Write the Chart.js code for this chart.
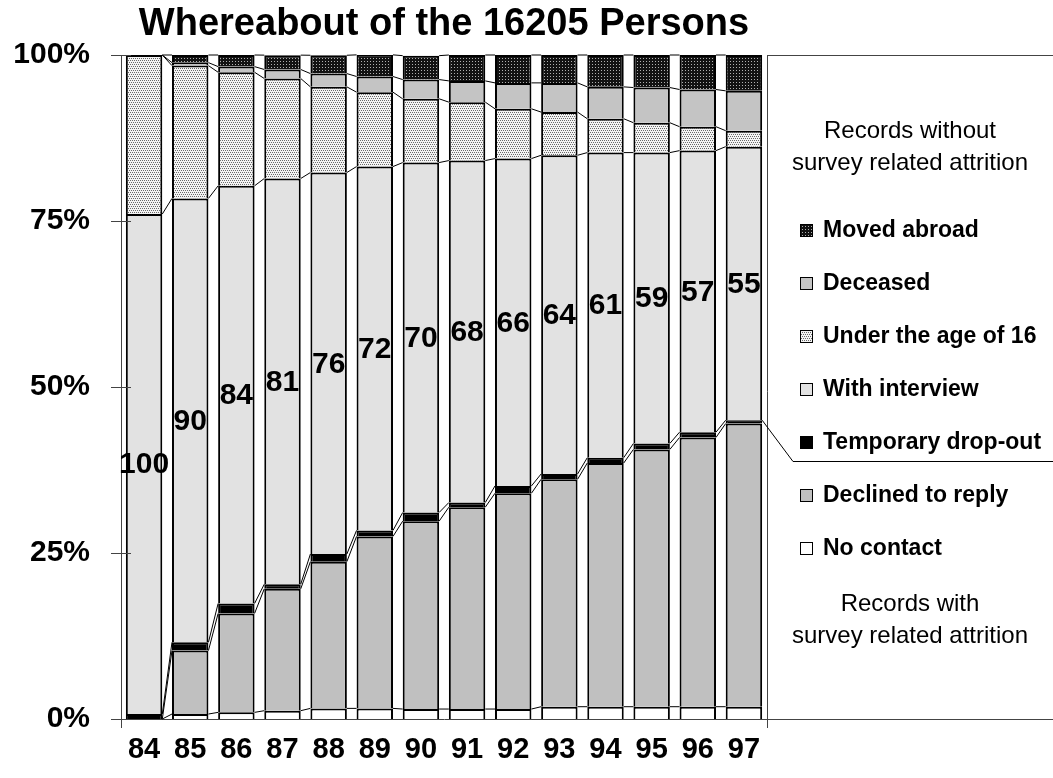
<!DOCTYPE html>
<html><head><meta charset="utf-8">
<script src="https://cdn.jsdelivr.net/npm/chart.js@4"></script>
<style>html,body{margin:0;padding:0;background:#fff;overflow:hidden}</style>
</head><body>
<canvas id="c" width="1053" height="778"></canvas>
<script>
// ---- data (percent of the 16205 persons) ----
const years = ['84','85','86','87','88','89','90','91','92','93','94','95','96','97'];
const noContact   = [0,0.75,1.0,1.25,1.6,1.6,1.5,1.5,1.5,1.85,1.85,1.85,1.85,1.85];
const declined    = [0,9.55,14.9,18.35,22.1,25.9,28.3,30.4,32.5,34.25,36.7,38.75,40.55,42.65];
const tempDrop    = [0.75,1.25,1.5,0.7,1.15,0.9,1.3,0.7,1.1,0.8,0.8,0.9,0.8,0.5];
const interview   = [75.3,66.85,62.9,61.1,57.45,54.8,52.7,51.5,49.3,48.0,45.95,43.8,42.4,41.2];
const under16     = [23.95,20.0,17.1,15.06,12.9,11.2,9.6,8.8,7.5,6.5,5.1,4.5,3.6,2.4];
const deceased    = [0,0.45,0.85,1.36,2.0,2.36,2.9,3.2,3.9,4.4,4.8,5.3,5.6,6.0];
const movedAbroad = [0,1.15,1.75,2.16,2.76,3.26,3.6,3.9,4.2,4.2,4.8,4.9,5.2,5.4];
const panelPct    = [100,90,84,81,76,72,70,68,66,64,61,59,57,55];
const yTicks      = [0,25,50,75,100];
const seriesNames = ['No contact','Declined to reply','Temporary drop-out','With interview','Under the age of 16','Deceased','Moved abroad'];

const F = '"Liberation Sans", Arial, Helvetica, sans-serif';

function makePattern(bg, fg, size, dots){
  const c = document.createElement('canvas'); c.width = size; c.height = size;
  const g = c.getContext('2d'); g.fillStyle = bg; g.fillRect(0,0,size,size);
  g.fillStyle = fg; dots.forEach(([x,y]) => g.fillRect(x,y,1,1));
  return g.createPattern(c,'repeat');
}
const under16Fill = makePattern('#f4f4f4','#6a6a6a',4,[[0,0],[2,0],[1,2],[3,2]]);
const movedFill = makePattern('#121212','#b0b0b0',3,[[1,1]]);
const fills = ['#ffffff','#c0c0c0','#000000','#e2e2e2',under16Fill,'#c4c4c4',movedFill];
const values = [noContact,declined,tempDrop,interview,under16,deceased,movedAbroad];

const seriesLines = {
  id:'seriesLines',
  afterDatasetsDraw(chart){
    const ctx = chart.ctx;
    ctx.save(); ctx.strokeStyle = '#000'; ctx.lineWidth = 1;
    chart.data.datasets.forEach((ds,d) => {
      const els = chart.getDatasetMeta(d).data;
      for (let i = 0; i < els.length - 1; i++){
        const a = els[i], b = els[i+1];
        ctx.beginPath();
        ctx.moveTo(a.x + a.width/2, a.y);
        ctx.lineTo(b.x - b.width/2, b.y);
        ctx.stroke();
      }
    });
    // value labels in the middle of the "With interview" segment
    ctx.fillStyle = '#000'; ctx.font = 'bold 30px ' + F;
    ctx.textAlign = 'center'; ctx.textBaseline = 'middle';
    chart.getDatasetMeta(3).data.forEach((el,i) => {
      ctx.fillText(String(panelPct[i]), el.x, (el.y + el.base)/2 + 1);
    });
    ctx.restore();
  }
};

const frame = {
  id:'frame',
  afterDraw(chart){
    const ctx = chart.ctx, a = chart.chartArea, ys = chart.scales.y, W = chart.width;
    ctx.save();
    ctx.strokeStyle = '#444'; ctx.lineWidth = 1;
    // crossing tick marks on the value axis
    ys.ticks.forEach(t => {
      const y = Math.round(ys.getPixelForValue(t.value)) + 0.5;
      ctx.beginPath(); ctx.moveTo(a.left - 10, y); ctx.lineTo(a.left + 10, y); ctx.stroke();
    });
    // vertical edges extending below the axis, panel frame
    ctx.beginPath();
    ctx.moveTo(a.left + 0.5, a.bottom); ctx.lineTo(a.left + 0.5, a.bottom + 9);
    ctx.moveTo(a.right + 0.5, a.top); ctx.lineTo(a.right + 0.5, a.bottom + 9);
    ctx.moveTo(a.right, Math.round(a.top) + 0.5); ctx.lineTo(W, Math.round(a.top) + 0.5);
    ctx.moveTo(a.right, Math.round(a.bottom) + 0.5); ctx.lineTo(W, Math.round(a.bottom) + 0.5);
    ctx.stroke();

    // legend panel
    const cx = (a.right + W) / 2;
    const mid = (a.top + a.bottom) / 2 + 2;
    const step = 53;
    ctx.fillStyle = '#000';
    ctx.textAlign = 'center'; ctx.textBaseline = 'middle';
    ctx.font = '24px ' + F;
    ctx.fillText('Records without', cx, mid - 4*step - 46);
    ctx.fillText('survey related attrition', cx, mid - 4*step - 14);
    ctx.fillText('Records with', cx, mid + 4*step + 3);
    ctx.fillText('survey related attrition', cx, mid + 4*step + 35);

    ctx.textAlign = 'left';
    ctx.font = 'bold 23px ' + F;
    const n = chart.data.datasets.length;
    for (let k = 0; k < n; k++){
      const d = n - 1 - k;
      const y = mid + (k - 3) * step;
      ctx.fillStyle = chart.data.datasets[d].backgroundColor;
      ctx.fillRect(800, y - 6, 13, 13);
      ctx.strokeStyle = '#000'; ctx.lineWidth = 1;
      ctx.strokeRect(800.5, y - 5.5, 12, 12);
      ctx.fillStyle = '#000';
      ctx.fillText(chart.data.datasets[d].label, 823, y + 1);
    }
    // separator from the attrition boundary to the legend
    const last = chart.getDatasetMeta(2).data[years.length - 1];
    const sepY = Math.round(mid + 72) + 0.5;
    ctx.strokeStyle = '#000'; ctx.lineWidth = 1;
    ctx.beginPath();
    ctx.moveTo(last.x + last.width/2, last.y);
    ctx.lineTo(793, sepY); ctx.lineTo(W, sepY);
    ctx.stroke();
    ctx.restore();
  }
};

new Chart(document.getElementById('c'), {
  type:'bar',
  data:{
    labels: years,
    datasets: values.map((v,i) => ({
      label: seriesNames[i], data: v, backgroundColor: fills[i],
      borderColor:'#000', borderWidth:2
    }))
  },
  options:{
    responsive:false, animation:false,
    layout:{padding:{left:0,right:286,top:0,bottom:0}},
    datasets:{bar:{categoryPercentage:1, barPercentage:0.79}},
    plugins:{
      legend:{display:false}, tooltip:{enabled:false},
      title:{display:true, text:'Whereabout of the 16205 Persons', fullSize:false, color:'#000',
        font:{family:F, size:38, weight:'bold', lineHeight:1.2}, padding:{top:2, bottom:7.4}}
    },
    scales:{
      x:{stacked:true, grid:{display:false, drawTicks:false},
         border:{display:true, color:'#444', width:1},
         ticks:{color:'#000', font:{family:F, size:29, weight:'bold'}, padding:14, maxRotation:0, autoSkip:false},
         afterFit(s){ s.height = 59; }},
      y:{stacked:true, min:0, max:100,
         afterBuildTicks(s){ s.ticks = yTicks.map(v => ({value:v})); },
         grid:{display:false, drawTicks:false},
         border:{display:true, color:'#444', width:1},
         ticks:{color:'#000', font:{family:F, size:30, weight:'bold'}, padding:31, callback:v => v + '%'},
         afterFit(s){ s.width = 121; }}
    }
  },
  plugins:[seriesLines, frame]
});
</script>
</body></html>
